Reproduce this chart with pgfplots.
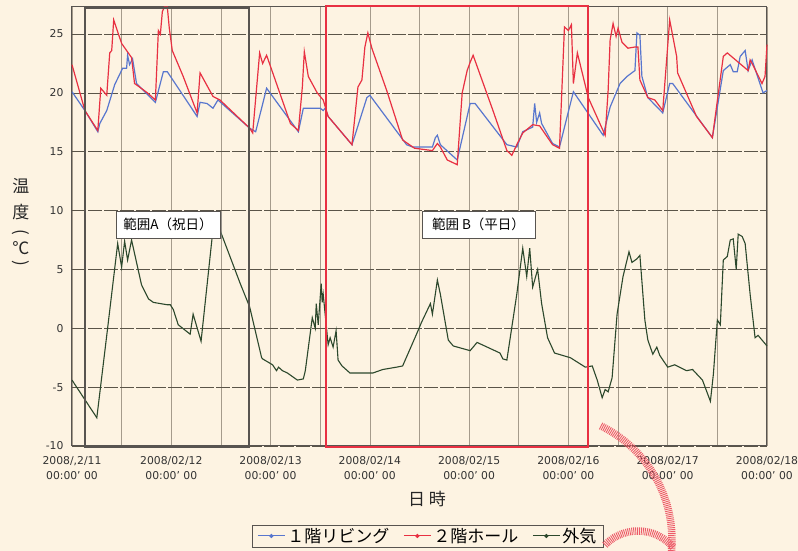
\documentclass[border=0pt]{standalone}
\usepackage{fontspec}
\setmainfont{DejaVu Sans}
\newfontfamily\cjk{Noto Sans CJK JP}
\usepackage{pgfplots}
\pgfplotsset{compat=1.18}
\usetikzlibrary{shadows}
\definecolor{bg}{RGB}{253,243,226}
\definecolor{cblue}{RGB}{88,118,206}
\definecolor{cred}{RGB}{232,48,66}
\definecolor{cgreen}{RGB}{44,72,44}
\definecolor{hgrid}{RGB}{90,84,72}
\definecolor{vgrid}{RGB}{165,155,140}
\definecolor{boxgray}{RGB}{88,84,80}
\begin{document}
\begin{tikzpicture}[x=1pt,y=1pt]
\useasboundingbox (0,0) rectangle (798,551);
\clip (0,0) rectangle (798,551);
\fill[bg] (0,0) rectangle (798,551);
\begin{axis}[
  at={(72pt,105pt)}, anchor=south west, scale only axis,
  width=695pt, height=439pt,
  xmin=0, xmax=7, ymin=-10, ymax=27.3,
  clip=false,
  xtick={0,1,2,3,4,5,6,7},
  minor xtick={0.5,1.5,2.5,3.5,4.5,5.5,6.5},
  xticklabels={{2008/,2/11\\00:00' 00},{2008/02/12\\00:00' 00},{2008/02/13\\00:00' 00},{2008/02/14\\00:00' 00},{2008/02/15\\00:00' 00},{2008/02/16\\00:00' 00},{2008/02/17\\00:00' 00},{2008/02/18\\00:00' 00}},
  ytick={-10,-5,0,5,10,15,20,25},
  yticklabels={-10,-5,0,5,10,15,20,25},
  major tick length=0pt, minor tick length=0pt,
  xmajorgrids, xminorgrids, ymajorgrids,
  x grid style={vgrid, line width=0.6pt},
  minor grid style={vgrid, line width=0.6pt},
  y grid style={hgrid, line width=0.6pt, dash pattern=on 14pt off 2pt},
  axis line style={draw=boxgray, line width=1pt},
  tick label style={font=\fontsize{10.8}{14.5}\selectfont, text=black!80},
  xticklabel style={align=center, yshift=-7pt},
  yticklabel style={xshift=-5pt},
  legend style={at={(axis description cs:0.512,-0.205)}, anchor=center,
    draw=boxgray, fill=bg, line width=0.8pt, inner xsep=5pt, inner ysep=1pt,
    font=\cjk\fontsize{17}{19}\selectfont,
    /tikz/every even column/.append style={column sep=12pt}},
  legend columns=3,
  legend image code/.code={
    \draw[#1, line width=1pt] (0pt,0pt) -- (27pt,0pt);
    \fill[#1] (13.5pt,0pt) circle (1.4pt);
  },
]
\addplot[cblue, line width=1.2pt] coordinates {
(0,20.1)(0.13,18.5)(0.26,16.7)(0.28,17.4)(0.35,18.5)(0.43,20.7)(0.51,22.1)(0.55,22.1)(0.56,23.2)(0.58,22.4)(0.61,22.9)(0.65,20.8)(0.84,19.2)(0.92,21.8)(0.96,21.8)(1.26,18.0)(1.29,19.2)(1.36,19.1)(1.42,18.7)(1.47,19.4)(1.79,17.0)(1.85,16.7)(1.96,20.4)(2.28,16.7)(2.33,18.7)(2.50,18.7)(2.53,18.5)(2.55,18.7)(2.58,18.0)(2.82,15.6)(2.97,19.6)(3.00,19.8)(3.37,15.6)(3.43,15.4)(3.63,15.4)(3.66,16.2)(3.68,16.4)(3.71,15.6)(3.88,14.3)(4.01,19.1)(4.06,19.1)(4.38,15.6)(4.48,15.4)(4.54,16.7)(4.64,17.1)(4.66,19.1)(4.68,17.5)(4.71,18.3)(4.73,17.4)(4.84,15.7)(4.91,15.4)(5.05,20.1)(5.35,16.4)(5.42,18.8)(5.47,19.8)(5.52,20.8)(5.59,21.4)(5.67,21.9)(5.69,25.1)(5.72,24.9)(5.74,21.4)(5.80,19.6)(5.95,18.3)(6.02,20.8)(6.05,20.8)(6.45,16.2)(6.56,21.9)(6.63,22.4)(6.66,21.8)(6.70,21.8)(6.73,23.1)(6.78,23.6)(6.81,21.9)(6.85,22.8)(6.96,20.0)(7.00,20.2)
};
\addlegendentry{１階リビング}
\addplot[cred, line width=1.2pt] coordinates {
(0,22.4)(0.13,18.5)(0.26,16.8)(0.29,20.4)(0.35,19.8)(0.38,23.4)(0.40,23.6)(0.42,26.2)(0.50,24.2)(0.55,23.6)(0.60,23.0)(0.63,20.8)(0.68,20.5)(0.76,20.0)(0.84,19.4)(0.87,25.3)(0.89,25.0)(0.91,26.9)(0.93,27.3)(0.96,27.3)(0.98,25.5)(1.01,23.6)(1.12,21.4)(1.26,18.3)(1.29,21.7)(1.42,19.7)(1.49,19.4)(1.79,17.0)(1.82,16.6)(1.89,23.4)(1.92,22.5)(1.96,23.2)(2.20,17.4)(2.28,16.8)(2.32,20.5)(2.34,23.5)(2.38,21.4)(2.47,20.0)(2.53,19.4)(2.58,18.0)(2.82,15.6)(2.88,20.5)(2.92,21.1)(2.95,23.9)(2.98,25.1)(3.02,23.8)(3.17,20.2)(3.33,16.0)(3.45,15.3)(3.63,15.1)(3.68,15.7)(3.71,15.4)(3.78,14.3)(3.88,13.9)(3.93,20.0)(3.98,21.9)(4.01,22.6)(4.04,23.2)(4.24,18.5)(4.38,15.1)(4.43,14.7)(4.48,15.6)(4.54,16.6)(4.64,17.3)(4.71,17.2)(4.84,15.6)(4.91,15.3)(4.96,25.6)(5.00,25.3)(5.03,25.8)(5.05,20.8)(5.09,23.4)(5.20,19.6)(5.37,16.4)(5.40,20.2)(5.42,24.5)(5.45,25.9)(5.48,24.8)(5.50,25.5)(5.54,24.3)(5.60,23.8)(5.67,23.9)(5.70,23.9)(5.72,21.1)(5.80,19.6)(5.87,19.4)(5.95,18.5)(6.02,26.2)(6.09,23.1)(6.10,21.7)(6.29,18.0)(6.45,16.2)(6.56,23.1)(6.60,23.4)(6.81,21.9)(6.83,22.8)(6.85,22.5)(6.95,20.8)(6.98,21.4)(7.00,24.1)
};
\addlegendentry{２階ホール}
\addplot[cgreen, line width=1.1pt] coordinates {
(0,-4.4)(0.25,-7.6)(0.36,0.1)(0.46,7.2)(0.50,5.2)(0.53,7.4)(0.56,5.8)(0.60,7.5)(0.70,3.7)(0.77,2.5)(0.82,2.2)(0.96,2.0)(0.99,2.0)(1.02,1.6)(1.07,0.3)(1.19,-0.5)(1.22,1.2)(1.30,-1.1)(1.42,8.4)(1.47,8.8)(1.69,3.9)(1.79,1.8)(1.91,-2.5)(1.92,-2.6)(2.02,-3.1)(2.06,-3.6)(2.08,-3.3)(2.12,-3.6)(2.17,-3.8)(2.27,-4.4)(2.33,-4.3)(2.35,-3.6)(2.42,0.9)(2.45,0.0)(2.46,2.1)(2.48,0.3)(2.51,3.8)(2.52,2.2)(2.53,2.9)(2.58,-1.4)(2.60,-0.8)(2.63,-1.6)(2.66,-0.2)(2.68,-2.7)(2.72,-3.2)(2.80,-3.8)(3.03,-3.8)(3.13,-3.5)(3.27,-3.3)(3.33,-3.2)(3.47,-0.5)(3.52,0.5)(3.61,2.1)(3.63,1.2)(3.68,4.1)(3.71,2.9)(3.79,-1.0)(3.84,-1.5)(4.01,-1.9)(4.08,-1.2)(4.31,-2.1)(4.34,-2.6)(4.38,-2.7)(4.48,2.9)(4.54,6.8)(4.58,4.4)(4.61,6.8)(4.64,3.5)(4.69,5.0)(4.73,2.1)(4.79,-0.8)(4.86,-2.1)(5.02,-2.5)(5.17,-3.3)(5.24,-3.2)(5.29,-4.4)(5.34,-5.9)(5.37,-5.2)(5.40,-5.4)(5.44,-4.2)(5.49,1.2)(5.55,4.4)(5.61,6.5)(5.64,5.6)(5.69,5.9)(5.72,6.2)(5.77,0.7)(5.80,-1.0)(5.85,-2.2)(5.89,-1.6)(5.92,-2.3)(6.00,-3.3)(6.07,-3.1)(6.19,-3.6)(6.25,-3.5)(6.35,-4.4)(6.43,-6.2)(6.46,-3.9)(6.50,0.7)(6.53,0.3)(6.56,5.8)(6.60,6.1)(6.63,7.5)(6.66,7.6)(6.69,5.0)(6.71,8.0)(6.75,7.8)(6.78,7.2)(6.83,2.9)(6.88,-0.8)(6.91,-0.6)(7.00,-1.5)
};
\addlegendentry{外気}
% range boxes
\draw[boxgray, line width=2.4pt] (axis cs:0.131,-10.1) rectangle (axis cs:1.78,27.2);
\draw[cred, line width=2.4pt] (axis cs:2.558,-10.1) rectangle (axis cs:5.196,27.38);
\node[draw=boxgray, fill=white, line width=0.8pt, minimum width=104pt, minimum height=27pt, inner sep=0pt,
  drop shadow={shadow xshift=1.5pt, shadow yshift=-1.5pt, fill=black!45},
  font=\cjk\fontsize{13.5}{15}\selectfont] at (axis cs:0.967,8.82) {範囲A（祝日）};
\node[draw=boxgray, fill=white, line width=0.8pt, minimum width=113pt, minimum height=27pt, inner sep=0pt,
  drop shadow={shadow xshift=1.5pt, shadow yshift=-1.5pt, fill=black!45},
  font=\cjk\fontsize{13.5}{15}\selectfont] at (axis cs:4.094,8.82) {範囲 B（平日）};
\end{axis}
% axis title texts
\node[font=\cjk\fontsize{17}{19}\selectfont, text=black!85] at (427,52) {日 時};
\begin{scope}[every node/.style={font=\cjk\fontsize{17}{19}\selectfont, text=black!85, inner sep=0pt}]
\node at (21,365) {温};
\node at (21,339) {度};
\node[rotate=-90] at (21,319) {(};
\node at (21,303) {℃};
\node[rotate=-90] at (21,288) {)};
\end{scope}
% decorative hatched arcs
\draw[cred!80, line width=7.5pt, dash pattern=on 0.9pt off 1pt] (545,11) ++(64:127) arc[start angle=64, end angle=-5, radius=127];
\draw[cred!80, line width=7.5pt, dash pattern=on 0.9pt off 1pt] (638,-26) ++(136:46) arc[start angle=136, end angle=40, radius=46];
\end{tikzpicture}
\end{document}
